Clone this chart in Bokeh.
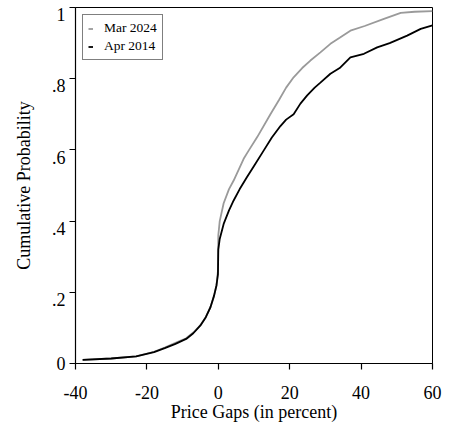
from bokeh.plotting import figure
from bokeh.models import Range1d, FixedTicker, Legend, LegendItem, LinearAxis
from bokeh.embed import file_html
from bokeh.resources import INLINE

apr2014_x = [-38, -30, -23, -18, -15, -12, -9, -7, -5, -3.5, -2.2, -1.2, -0.5, -0.1, 0, 0.4,
             1.5, 3, 4.3, 6, 8, 10, 12.7, 15, 17.4, 19, 21.1, 23, 24.9, 27, 28.6, 31.4, 34,
             37, 40.8, 44.5, 48, 52.9, 56.7, 60]
apr2014_y = [0.010, 0.014, 0.020, 0.032, 0.043, 0.055, 0.069, 0.085, 0.107, 0.13, 0.158, 0.19,
             0.22, 0.25, 0.32, 0.35, 0.392, 0.43, 0.458, 0.49, 0.523, 0.555, 0.598, 0.635,
             0.667, 0.685, 0.70, 0.73, 0.753, 0.775, 0.789, 0.814, 0.83, 0.86, 0.87, 0.888,
             0.90, 0.921, 0.94, 0.95]

mar2024_x = [-38, -30, -23, -18, -15, -12, -9, -7, -5, -3.5, -2.2, -1.2, -0.5, -0.1, 0, 0.4,
             1.5, 3, 4.3, 7.1, 8.5, 10.9, 14.6, 17, 19, 21.1, 23.5, 25.8, 28.6, 31.4, 34,
             37, 41, 46.4, 51.1, 55, 60]
mar2024_y = [0.010, 0.014, 0.020, 0.033, 0.045, 0.058, 0.071, 0.087, 0.108, 0.13, 0.158, 0.19,
             0.22, 0.26, 0.36, 0.40, 0.45, 0.49, 0.514, 0.575, 0.598, 0.636, 0.70, 0.74,
             0.775, 0.804, 0.83, 0.851, 0.874, 0.898, 0.915, 0.935, 0.948, 0.968, 0.985,
             0.988, 0.99]

x_ticks = [-40, -20, 0, 20, 40, 60]
x_tick_labels = {-40: "-40", -20: "-20", 0: "0", 20: "20", 40: "40", 60: "60"}
y_ticks = [0, 0.2, 0.4, 0.6, 0.8, 1.0]
y_tick_text = ["0", ".2", ".4", ".6", ".8", "1"]

FONT = "Liberation Serif"
Y0, Y1 = 0, 1
LABEL_SHIFT = 0.02  # y tick labels hang slightly below their ticks

p = figure(width=442, height=420, output_backend="svg", toolbar_location=None,
           x_range=Range1d(-40, 60), y_range=Range1d(Y0, Y1),
           frame_width=357, frame_height=356,
           min_border_left=75, min_border_top=7, min_border_right=10, min_border_bottom=10)
p.extra_y_ranges = {"ylab": Range1d(Y0 + LABEL_SHIFT, Y1 + LABEL_SHIFT)}

p.background_fill_color = "white"
p.border_fill_color = "white"
p.outline_line_color = "black"
p.outline_line_width = 1
p.xgrid.visible = False
p.ygrid.visible = False

r_mar = p.line(mar2024_x, mar2024_y, line_color="#9a9a9a", line_width=1.8)
r_apr = p.line(apr2014_x, apr2014_y, line_color="black", line_width=1.8)

for ax in (p.xaxis[0], p.yaxis[0]):
    ax.axis_line_color = "black"
    ax.axis_line_width = 1.2
    ax.major_tick_line_color = "black"
    ax.major_tick_line_width = 1.2
    ax.major_tick_in = 0
    ax.major_tick_out = 6
    ax.minor_tick_line_color = None
    ax.major_label_text_font = FONT
    ax.major_label_text_font_size = "18px"
    ax.major_label_text_color = "black"
    ax.axis_label_text_font = FONT
    ax.axis_label_text_font_size = "18px"
    ax.axis_label_text_font_style = "normal"
    ax.axis_label_text_color = "black"

p.xaxis.ticker = FixedTicker(ticks=x_ticks)
p.xaxis.major_label_overrides = x_tick_labels
p.xaxis.axis_label = "Price Gaps (in percent)"
p.xaxis.major_label_standoff = 16
p.xaxis.axis_label_standoff = 0

# main y axis: line and ticks only
p.yaxis.ticker = FixedTicker(ticks=y_ticks)
p.yaxis.major_label_text_alpha = 0
p.yaxis.major_label_standoff = 3

# label axis: same tick values on a slightly shifted range so the texts hang below ticks
# (the bottom label "0" sits at the frame's lower edge, the lowest point that range shows)
lab_ticks = [max(t, Y0 + LABEL_SHIFT) for t in y_ticks]
ylab = LinearAxis(y_range_name="ylab", ticker=FixedTicker(ticks=lab_ticks))
ylab.major_label_overrides = {u: s for u, s in zip(lab_ticks, y_tick_text)}
ylab.major_label_orientation = "horizontal"
ylab.axis_line_color = None
ylab.major_tick_line_color = None
ylab.minor_tick_line_color = None
ylab.major_tick_in = 0
ylab.major_tick_out = 0
ylab.major_label_standoff = 4
ylab.major_label_text_font = FONT
ylab.major_label_text_font_size = "18px"
ylab.major_label_text_color = "black"
ylab.axis_label = "Cumulative Probability"
ylab.axis_label_text_font = FONT
ylab.axis_label_text_font_size = "18px"
ylab.axis_label_text_font_style = "normal"
ylab.axis_label_text_color = "black"
ylab.axis_label_standoff = 15
p.add_layout(ylab, "left")

legend = Legend(items=[LegendItem(label="Mar 2024", renderers=[r_mar]),
                       LegendItem(label="Apr 2014", renderers=[r_apr])],
                location="top_left")
legend.margin = 7
legend.padding = 5
legend.spacing = 2
legend.glyph_width = 5
legend.glyph_height = 15
legend.label_height = 15
legend.label_standoff = 11
legend.label_text_font = FONT
legend.label_text_font_size = "13.5px"
legend.label_text_color = "black"
legend.border_line_color = "black"
legend.border_line_width = 1
legend.background_fill_color = "white"
legend.background_fill_alpha = 1
p.add_layout(legend)

open("out.html", "w").write(file_html(p, INLINE))
